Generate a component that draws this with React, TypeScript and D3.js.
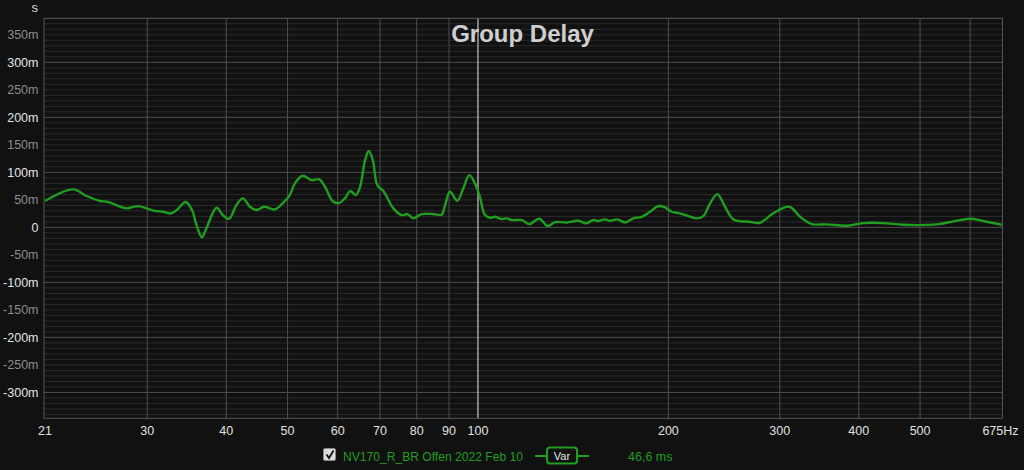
import React from "react";
import * as d3 from "d3";

const freqs = [20.67, 22.9, 24.05, 25.25, 26.0, 26.8, 27.8, 29.0, 29.9, 30.85, 31.8, 32.7, 33.4, 34.5, 35.3, 35.9, 36.6, 37.2, 38.6, 39.5, 40.4, 41.5, 42.5, 43.6, 44.7, 45.9, 47.75, 49.2, 50.4, 51.35, 52.8, 54.6, 56.1, 57.3, 59.05, 60.4, 61.6, 62.8, 64.1, 65.1, 66.3, 67.2, 68.2, 69.3, 70.85, 73.5, 75.7, 77.4, 79.0, 81.5, 85.0, 87.6, 88.7, 90.3, 92.75, 94.8, 96.9, 98.9, 100.7, 102.6, 104.5, 106.4, 109.0, 111.0, 113.1, 117.3, 120.5, 125.0, 128.9, 132.4, 138.2, 144.1, 148.2, 152.2, 155.0, 158.8, 161.7, 166.1, 170.8, 176.0, 181.5, 187.1, 192.8, 197.6, 202.4, 208.7, 221.7, 227.1, 232.8, 239.0, 245.8, 253.4, 268.5, 279.2, 293.0, 310.6, 323.0, 337.1, 356.0, 382.8, 406.8, 437.5, 470.5, 531.4, 564.5, 599.8, 629.5, 673];
const delayMs = [47.8, 69, 57, 48, 46.5, 40.5, 34.5, 38.7, 34.5, 30, 28.4, 25.4, 31.5, 46, 31.5, 4, -18, -2, 35.7, 22.4, 15.6, 40.5, 52.7, 37.5, 31.5, 37.5, 32.7, 44.7, 58.7, 80, 93.8, 86, 87.3, 73.8, 46.5, 44.7, 52.7, 66, 58.7, 73.8, 122, 138.7, 122, 77, 66, 34.5, 22.4, 24.2, 16.4, 24.2, 24.2, 23, 40.5, 64.7, 48.4, 70.9, 95, 80, 55.6, 22.4, 17.5, 19.3, 15.1, 16.4, 13.3, 13.3, 6, 15.6, 2.4, 9.6, 9, 12, 7.3, 13.3, 11.5, 14.5, 12, 14.5, 9, 16.4, 19.3, 28.4, 38.7, 36.4, 28.4, 25.5, 16.4, 20.5, 43.6, 60.5, 37.5, 14.5, 10.2, 8.4, 25.5, 37.5, 19.3, 6, 5.5, 2.9, 7.8, 7.8, 4.7, 5.5, 10.9, 15.6, 11.5, 4.7];

const xTicks = [21, 30, 40, 50, 60, 70, 80, 90, 100, 200, 300, 400, 500, 675];
const xGrid = [30, 40, 50, 60, 70, 80, 90, 200, 300, 400, 500, 600];
const yLabelTicks = [350, 300, 250, 200, 150, 100, 50, 0, -50, -100, -150, -200, -250, -300];

const W = 1024, H = 470;
const L = 44, R = 1002.5, T = 18.3, B = 418.3;

export default function App() {
  const x = d3.scaleLog().domain([20.6, 675]).range([L, R]);
  const y = d3.scaleLinear().domain([-347, 380]).range([B, T]);
  const pts: [number, number][] = freqs.map((f, i) => [x(f), y(delayMs[i])]);
  const line = d3.line().curve(d3.curveCatmullRom.alpha(0.5))(pts) || "";
  const minor = d3.range(-340, 381, 10);
  const font = "'Liberation Sans', Arial, sans-serif";
  const green = "#1f9e1f";
  const tickX = (f: number) => (f === 21 ? L + 1 : f === 675 ? R - 2 : x(f));
  return (
    <svg width={W} height={H} style={{ position: "absolute", left: 0, top: 0, background: "#111111" }}>
      <rect x={0} y={0} width={W} height={H} fill="#111111" />
      <defs>
        <clipPath id="plot"><rect x={L} y={T} width={R - L} height={B - T} /></clipPath>
      </defs>
      {minor.map((v) => (
        <line key={"m" + v} x1={L} x2={R} y1={y(v)} y2={y(v)} stroke={v % 100 === 0 ? "#4e4e4e" : "#2a2a2a"} strokeWidth={1} />
      ))}
      {xGrid.map((f) => (
        <line key={"g" + f} x1={x(f)} x2={x(f)} y1={T} y2={B} stroke="#4e4e4e" strokeWidth={1} />
      ))}
      <line x1={x(100)} x2={x(100)} y1={T} y2={B} stroke="#e6e6e6" strokeWidth={1} />
      <rect x={L} y={T} width={R - L} height={B - T} fill="none" stroke="#555" strokeWidth={1} />
      <text x={522.5} y={42} textAnchor="middle" fontFamily={font} fontWeight="bold" fontSize={24} fill="#cfcfcf">Group Delay</text>
      <path d={line} fill="none" stroke={green} strokeWidth={2.4} clipPath="url(#plot)" strokeLinejoin="round" />
      <text x={38} y={12} textAnchor="end" fontFamily={font} fontSize={13} fill="#d8d8d8">s</text>
      {yLabelTicks.map((v) => (
        <text key={"y" + v} x={38.5} y={y(v) + 4.5} textAnchor="end" fontFamily={font} fontSize={12.5}
          fill={v % 100 === 0 ? "#e2e2e2" : "#8c8c8c"}>{v === 0 ? "0" : v + "m"}</text>
      ))}
      {xTicks.map((f) => (
        <text key={"x" + f} x={tickX(f)} y={435} textAnchor="middle" fontFamily={font} fontSize={12.5} fill="#e0e0e0">
          {f === 675 ? "675Hz" : String(f)}
        </text>
      ))}
      <g>
        <rect x={323.5} y={448.5} width={12} height={12} rx={1.5} fill="#dcdcdc" stroke="#888" />
        <path d="M326.5 454.5 L329 458 L333.5 450.5" fill="none" stroke="#111" strokeWidth={1.8} />
        <text x={343} y={460.5} fontFamily={font} fontSize={12.1} fill={green}>NV170_R_BR Offen 2022 Feb 10</text>
        <line x1={535} x2={589} y1={456} y2={456} stroke={green} strokeWidth={2} />
        <rect x={547} y={447.5} width={30} height={16} rx={3} fill="#111" stroke={green} strokeWidth={2} />
        <text x={562} y={460} textAnchor="middle" fontFamily={font} fontSize={11} fill="#e6e6e6">Var</text>
        <text x={628} y={460.5} fontFamily={font} fontSize={12.5} fill={green}>46,6 ms</text>
      </g>
    </svg>
  );
}
